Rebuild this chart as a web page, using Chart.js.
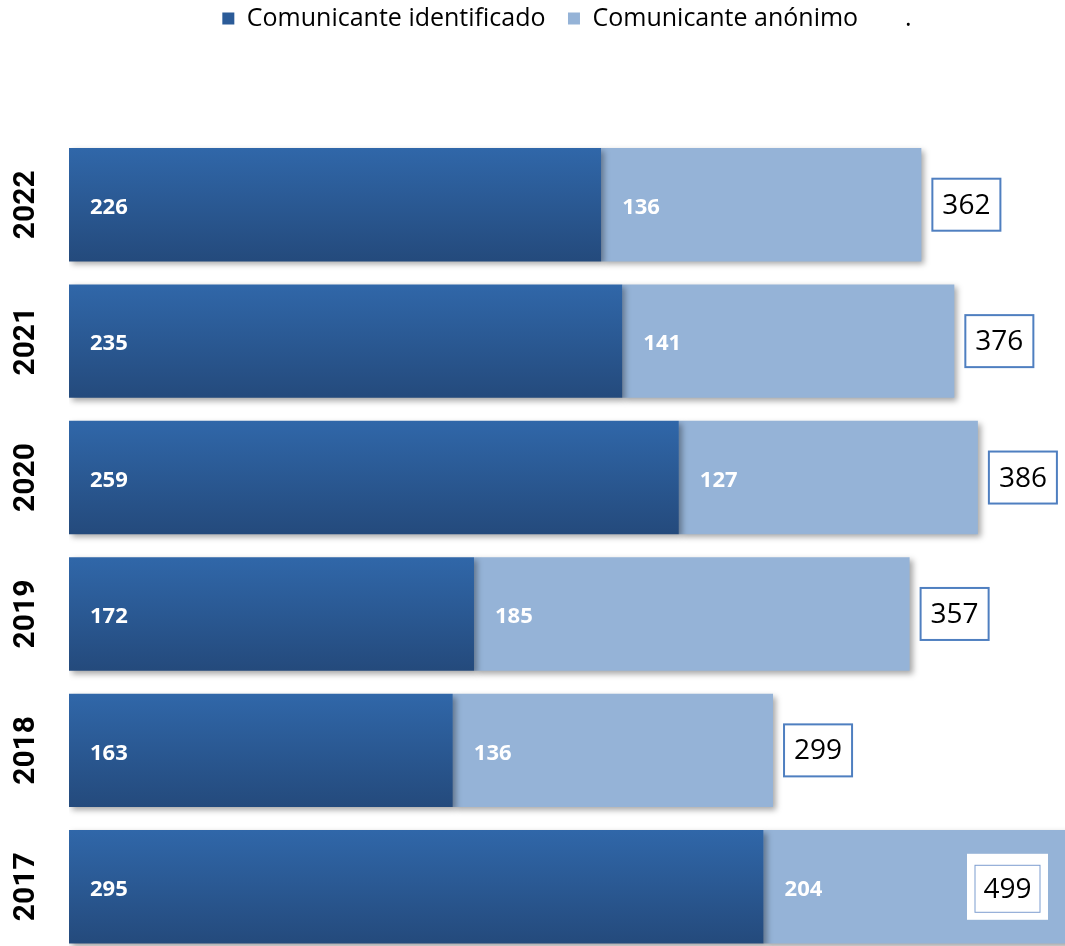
<!DOCTYPE html>
<html>
<head>
<meta charset="utf-8">
<script src="https://cdn.jsdelivr.net/npm/chart.js@4.4.1/dist/chart.umd.min.js"></script>
<style>
  html, body { margin: 0; padding: 0; background: #fff; overflow: hidden; }
  #wrap { width: 1065px; height: 946px; overflow: hidden; }
</style>
</head>
<body>
<div id="wrap"><canvas id="chart" width="1065" height="956"></canvas></div>
<script>
const years = ["2022", "2021", "2020", "2019", "2018", "2017"];
const identified = [226, 235, 259, 172, 163, 295];
const anonymous = [136, 141, 127, 185, 136, 204];
const seriesNames = ["Comunicante identificado", "Comunicante anónimo"];
const axisMax = 423;

const barPct = 0.832;
const darkSolid = "#2b5b98";
const lightSolid = "#95b3d7";

// vertical gradient per bar, computed from the category scale
function darkFill(context) {
  const chart = context.chart;
  const yScale = chart.scales.y;
  if (context.type !== "data" || !chart.chartArea || !yScale) return darkSolid;
  const center = yScale.getPixelForValue(context.dataIndex);
  const half = (yScale.height / years.length) * barPct / 2;
  const g = chart.ctx.createLinearGradient(0, center - half, 0, center + half);
  g.addColorStop(0, "#3067a9");
  g.addColorStop(1, "#244a7c");
  return g;
}

// leave room under the legend before the bars start
const legendSpace = {
  id: "legendSpace",
  beforeInit(chart) {
    const fit = chart.legend.fit;
    chart.legend.fit = function () {
      fit.call(this);
      this.height = 133.5;
    };
  }
};

const barShadow = {
  id: "barShadow",
  beforeDatasetDraw(chart) {
    const c = chart.ctx;
    c.save();
    c.shadowColor = "rgba(0,0,0,0.35)";
    c.shadowBlur = 6;
    c.shadowOffsetX = 3;
    c.shadowOffsetY = 3;
  },
  afterDatasetDraw(chart) {
    chart.ctx.restore();
  }
};

const barLabels = {
  id: "barLabels",
  afterDatasetsDraw(chart) {
    const c = chart.ctx;
    const area = chart.chartArea;
    const xs = chart.scales.x;
    const ys = chart.scales.y;
    c.save();

    // segment values
    c.font = "bold 22px 'Open Sans'";
    c.fillStyle = "#ffffff";
    c.textAlign = "left";
    c.textBaseline = "middle";
    chart.data.datasets.forEach((ds, di) => {
      chart.getDatasetMeta(di).data.forEach((bar, i) => {
        c.fillText(String(ds.data[i]), bar.base + 21, bar.y + 3);
      });
    });

    // totals in boxes
    c.font = "28px 'Open Sans'";
    c.textAlign = "center";
    years.forEach((yr, i) => {
      const total = identified[i] + anonymous[i];
      const end = xs.getPixelForValue(total);
      const y = ys.getPixelForValue(i);
      const tw = c.measureText(String(total)).width;
      let w = tw + 22, h = 54;
      let left = end + 10;
      if (left + w > area.right) {
        // bar runs off the plot: put the total inside it
        const ow = 81, oh = 66;
        const ox = area.right - 17 - ow;
        c.fillStyle = "#ffffff";
        c.fillRect(ox, y - oh / 2, ow, oh);
        w = 66; h = 48;
        left = ox + (ow - w) / 2;
        c.strokeStyle = "#7d9dd0";
        c.lineWidth = 1;
        c.strokeRect(left + 0.5, y - h / 2 + 2.5, w - 1, h - 1);
        c.fillStyle = "#000000";
        c.fillText(String(total), left + w / 2, y + 3);
      } else {
        c.fillStyle = "#ffffff";
        c.fillRect(left, y - h / 2, w, h);
        c.strokeStyle = "#4f7fc0";
        c.lineWidth = 2;
        c.strokeRect(left + 1, y - h / 2 + 1, w - 2, h - 2);
        c.fillStyle = "#000000";
        c.fillText(String(total), left + w / 2, y + 1);
      }
    });

    // rotated year labels on the left
    c.font = "bold 30px Roboto";
    c.fillStyle = "#000000";
    c.textAlign = "center";
    c.textBaseline = "middle";
    years.forEach((yr, i) => {
      const y = ys.getPixelForValue(i);
      c.save();
      c.translate(26, y);
      c.rotate(-Math.PI / 2);
      c.fillText(yr, 0, 0);
      c.restore();
    });
    c.restore();
  }
};

new Chart(document.getElementById("chart"), {
  type: "bar",
  data: {
    labels: years,
    datasets: [
      {
        label: seriesNames[0],
        data: identified,
        backgroundColor: darkFill,
        borderWidth: 0,
        barPercentage: barPct,
        categoryPercentage: 1
      },
      {
        label: seriesNames[1],
        data: anonymous,
        backgroundColor: lightSolid,
        borderWidth: 0,
        barPercentage: barPct,
        categoryPercentage: 1
      }
    ]
  },
  options: {
    indexAxis: "y",
    responsive: false,
    animation: false,
    layout: { padding: { left: 69, right: 0, top: 3, bottom: 1 } },
    scales: {
      x: { stacked: true, min: 0, max: axisMax, display: false },
      y: { stacked: true, display: false }
    },
    plugins: {
      tooltip: { enabled: false },
      legend: {
        position: "top",
        labels: {
          boxWidth: 12,
          boxHeight: 12,
          padding: 3,
          color: "#1e1e1e",
          font: { family: "'Open Sans'", size: 25 },
          generateLabels: () => [
            { text: seriesNames[0] + "   ", fillStyle: darkSolid, strokeStyle: darkSolid, lineWidth: 0 },
            { text: seriesNames[1] + "   ", fillStyle: lightSolid, strokeStyle: lightSolid, lineWidth: 0 },
            { text: ".", fillStyle: "rgba(0,0,0,0)", strokeStyle: "rgba(0,0,0,0)", lineWidth: 0 }
          ]
        }
      }
    }
  },
  plugins: [legendSpace, barShadow, barLabels]
});
</script>
</body>
</html>
